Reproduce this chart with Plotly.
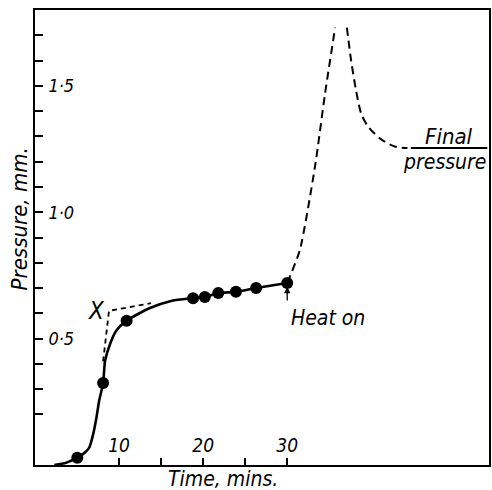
import plotly.graph_objects as go

# Solid curve (time, pressure)
solid_t = [2.3, 3.7, 5.03, 5.66, 6.45, 6.92, 7.31, 7.63, 8.1, 8.34, 8.93, 9.68, 10.9, 13.6, 16.3, 18.8, 20.2, 21.8, 23.9, 26.3, 30.0]
solid_p = [0.0, 0.009, 0.029, 0.042, 0.069, 0.122, 0.188, 0.254, 0.324, 0.413, 0.479, 0.532, 0.571, 0.62, 0.65, 0.66, 0.665, 0.68, 0.685, 0.70, 0.72]

# Measured points
dot_t = [5.03, 8.1, 10.9, 18.8, 20.2, 21.8, 23.9, 26.3, 30.0]
dot_p = [0.029, 0.324, 0.571, 0.66, 0.665, 0.68, 0.685, 0.70, 0.72]

# Construction lines to point X
constr_t = [8.1, 8.8, 13.8]
constr_p = [0.41, 0.61, 0.64]

# Dashed curve after heat on (rise and fall)
rise_t = [30.0, 31.5, 33.3, 34.5, 35.7]
rise_p = [0.72, 0.85, 1.18, 1.47, 1.73]
fall_t = [37.1, 37.6, 38.2, 38.8, 39.6, 41.1, 42.8, 44.3]
fall_p = [1.73, 1.60, 1.48, 1.39, 1.34, 1.29, 1.26, 1.254]

# Final pressure level
final_t = [44.7, 53.8]
final_p = [1.254, 1.254]

y_tickvals = [0.5, 1.0, 1.5]
y_ticktext = ["<i>0·5</i>", "<i>1·0</i>", "<i>1·5</i>"]
x_tickvals = [10, 20, 30]
x_ticktext = ["<i>10</i>", "<i>20</i>", "<i>30</i>"]

FONT = "DejaVu Sans Condensed, DejaVu Sans"

fig = go.Figure()
fig.add_trace(go.Scatter(x=solid_t, y=solid_p, mode="lines",
                         line=dict(color="black", width=2.6, shape="spline", smoothing=0.6)))
fig.add_trace(go.Scatter(x=constr_t, y=constr_p, mode="lines",
                         line=dict(color="black", width=1.8, dash="5px,4px")))
fig.add_trace(go.Scatter(x=rise_t, y=rise_p, mode="lines",
                         line=dict(color="black", width=2, dash="8px,5px", shape="spline", smoothing=0.6)))
fig.add_trace(go.Scatter(x=fall_t, y=fall_p, mode="lines",
                         line=dict(color="black", width=2, dash="8px,5px", shape="spline", smoothing=0.8)))
fig.add_trace(go.Scatter(x=final_t, y=final_p, mode="lines",
                         line=dict(color="black", width=2)))
fig.add_trace(go.Scatter(x=dot_t, y=dot_p, mode="markers",
                         marker=dict(color="black", size=12)))

fig.add_annotation(x=30, y=0.705, ax=30, ay=0.645, xref="x", yref="y", axref="x", ayref="y",
                   showarrow=True, arrowhead=2, arrowsize=1, arrowwidth=1.3, arrowcolor="black", text="")
fig.add_annotation(x=34.85, y=0.58, text="<i>Heat on</i>", showarrow=False,
                   font=dict(family=FONT, size=21, color="black"))
fig.add_annotation(x=7.3, y=0.611, text="<i>X</i>", showarrow=False,
                   font=dict(family=FONT, size=24, color="black"))
fig.add_annotation(x=49.3, y=1.254, yshift=12, text="<i>Final</i>", showarrow=False,
                   font=dict(family=FONT, size=22, color="black"))
fig.add_annotation(x=48.7, y=1.254, yshift=-14, text="<i>pressure</i>", showarrow=False,
                   font=dict(family=FONT, size=21, color="black"))
fig.add_annotation(x=0.414, y=-0.03, xref="paper", yref="paper",
                   xanchor="center", yanchor="middle",
                   text="<i>Time, mins.</i>", showarrow=False,
                   font=dict(family=FONT, size=21, color="black"))
fig.add_annotation(x=-0.035, y=0.54, xref="paper", yref="paper", textangle=-90,
                   xanchor="center", yanchor="middle",
                   text="<i>Pressure, mm.</i>", showarrow=False,
                   font=dict(family=FONT, size=22, color="black"))

fig.update_xaxes(range=[0, 54], showgrid=False, zeroline=False,
                 showline=True, mirror=True, linecolor="black", linewidth=2,
                 tickvals=x_tickvals, ticktext=x_ticktext,
                 ticks="inside", ticklen=7, tickwidth=1.5, tickcolor="black",
                 ticklabelposition="inside", ticklabelstandoff=3,
                 tickfont=dict(family=FONT, size=19, color="black"),
                 minor=dict(tickvals=[15, 25], ticks="inside", ticklen=7, tickwidth=1.5, tickcolor="black"))
fig.update_yaxes(range=[0, 1.8], showgrid=False, zeroline=False,
                 showline=True, mirror=True, linecolor="black", linewidth=2,
                 tickvals=y_tickvals, ticktext=y_ticktext,
                 ticks="inside", ticklen=8, tickwidth=1.5, tickcolor="black",
                 ticklabelposition="inside", ticklabelstandoff=6,
                 tickfont=dict(family=FONT, size=18, color="black"),
                 minor=dict(dtick=0.1, ticks="inside", ticklen=8, tickwidth=1.5, tickcolor="black"))

fig.update_layout(width=492, height=490, showlegend=False,
                  margin=dict(l=35, r=1, t=10, b=25),
                  plot_bgcolor="white", paper_bgcolor="white")

fig.write_html("out.html", config={"displayModeBar": False},
               post_script="document.body.style.margin='0';document.body.style.padding='0';")
